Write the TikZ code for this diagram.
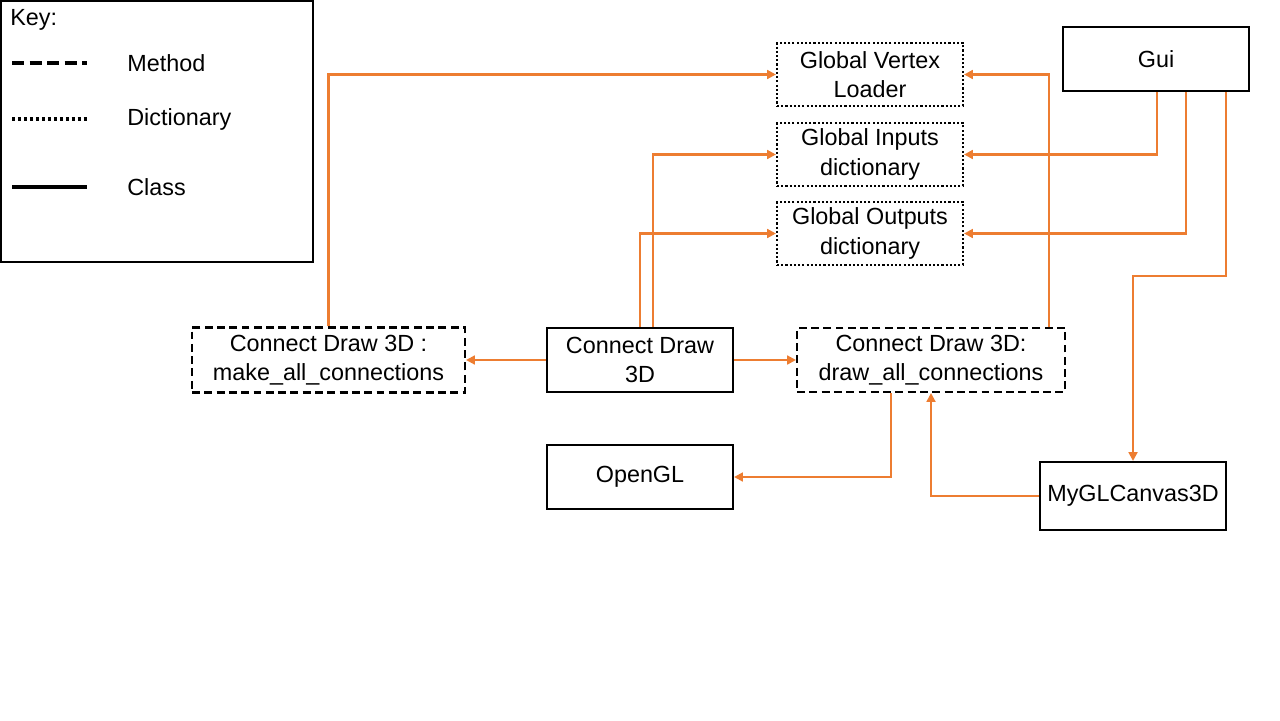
\documentclass[tikz,border=0pt]{standalone}
\usepackage{fontspec}
\setmainfont{Liberation Sans}
\usetikzlibrary{arrows.meta,calc}
\definecolor{conncol}{HTML}{ED7D31}
\begin{document}
\begin{tikzpicture}[x=0.02cm,y=-0.02cm,
  every node/.style={font=\fontsize{13.3}{16.8}\selectfont, inner sep=0pt, align=center},
  boxbase/.style={draw=black, line width=1.2pt, fill=white},
  classbox/.style={boxbase},
  methodbox/.style={boxbase, dash pattern=on 4.5pt off 2.5pt},
  dictbox/.style={boxbase, dash pattern=on 1.2pt off 1.2pt},
  conn/.style={draw=conncol, line width=1.3pt, -{Triangle[width=5pt,length=5pt]}},
  keytext/.style={anchor=west}]
\useasboundingbox (0,0) rectangle (1280,720);
% key
\node[draw=black, line width=1.1pt, minimum width=6.24cm, minimum height=5.22cm] (key) at (157,131.5) {};
\node[keytext] (keylbl) at (10,20) {Key:};
\coordinate (k1a) at (12,63); \coordinate (k1b) at (87,63);
\coordinate (k2a) at (12,119); \coordinate (k2b) at (87,119);
\coordinate (k3a) at (12,187); \coordinate (k3b) at (87,187);
\draw[line width=2.2pt, dash pattern=on 7pt off 3pt] (k1a) -- (k1b);
\draw[line width=2.2pt, dash pattern=on 1.7pt off 1.7pt] (k2a) -- (k2b);
\draw[line width=2.2pt] (k3a) -- (k3b);
\node[keytext] (kmeth) at (127,63) {Method};
\node[keytext] (kdict) at (127,119) {Dictionary};
\node[keytext] (kclass) at (127,187) {Class};
% boxes
\node[dictbox, minimum width=3.72cm, minimum height=1.26cm] (gvl) at (870,74.5) {Global Vertex\\Loader};
\node[dictbox, minimum width=3.72cm, minimum height=1.26cm] (gid) at (870,154.5) {Global Inputs\\dictionary};
\node[dictbox, minimum width=3.72cm, minimum height=1.26cm] (god) at (870,233.5) {Global Outputs\\dictionary};
\node[classbox, minimum width=3.72cm, minimum height=1.28cm] (gui) at (1156,59) {Gui};
\node[methodbox, minimum width=5.46cm, minimum height=1.3cm] (mac) at (328.5,360) {Connect Draw 3D :\\make\_all\_connections};
\node[classbox, minimum width=3.72cm, minimum height=1.28cm] (cd) at (640,360) {Connect Draw\\3D};
\node[methodbox, minimum width=5.36cm, minimum height=1.28cm] (dac) at (931,360) {Connect Draw 3D:\\draw\_all\_connections};
\node[classbox, minimum width=3.72cm, minimum height=1.28cm] (ogl) at (640,477) {OpenGL};
\node[classbox, minimum width=3.72cm, minimum height=1.36cm] (mgc) at (1133,496) {MyGLCanvas3D};
% helper coordinates
\coordinate (xa) at (1049,0);
\coordinate (xg1) at (1157,0);
\coordinate (xg2) at (1186,0);
\coordinate (xg3) at (1226,0);
\coordinate (yg3) at (0,276);
\coordinate (xc1) at (653,0);
\coordinate (xd1) at (891,0);
% connectors
\draw[conn] (mac.north) |- (gvl.west);
\draw[conn] (dac.north -| xa) |- (gvl.east);
\draw[conn] (gui.south -| xg1) |- (gid.east);
\draw[conn] (gui.south -| xg2) |- (god.east);
\draw[conn] (gui.south -| xg3) -- (xg3 |- yg3) -| (mgc.north);
\draw[conn] (cd.north -| xc1) |- (gid.west);
\draw[conn] (cd.north) |- (god.west);
\draw[conn] (cd.west) -- (mac.east);
\draw[conn] (cd.east) -- (dac.west);
\draw[conn] (dac.south -| xd1) |- (ogl.east);
\draw[conn] (mgc.west) -| (dac.south);
\end{tikzpicture}
\end{document}
